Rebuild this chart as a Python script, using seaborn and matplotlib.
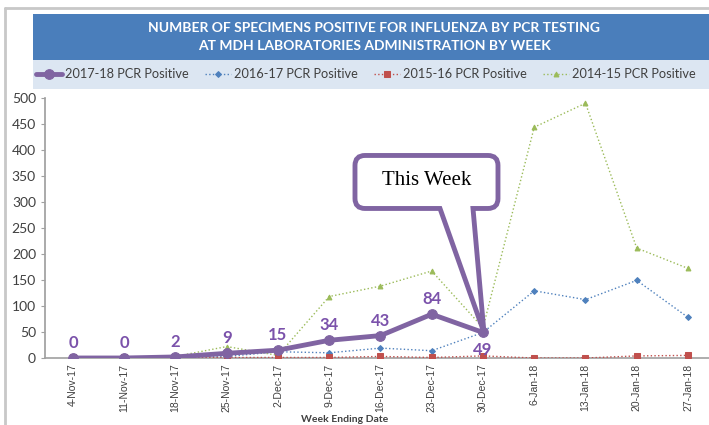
import numpy as np
import pandas as pd
import matplotlib.pyplot as plt
import matplotlib.transforms as mtransforms
import seaborn as sns
from matplotlib.patches import Rectangle, PathPatch
from matplotlib.path import Path
from matplotlib.lines import Line2D

# Dados (semanas 4-Nov a 27-Jan)
semanas = ['4-Nov-17', '11-Nov-17', '18-Nov-17', '25-Nov-17', '2-Dec-17', '9-Dec-17',
           '16-Dec-17', '23-Dec-17', '30-Dec-17', '6-Jan-18', '13-Jan-18', '20-Jan-18', '27-Jan-18']
pcr_2017_18 = [0, 0, 2, 9, 15, 34, 43, 84, 49]
pcr_2016_17 = [0, 0, 1, 3, 12, 10, 19, 14, 49, 129, 112, 149, 78]
pcr_2015_16 = [2, 1, 0, 1, 1, 1, 3, 1, 4, 0, 0, 4, 5]
pcr_2014_15 = [2, 1, 3, 22, 5, 118, 138, 167, 58, 443, 489, 211, 172]
yticks = [0, 50, 100, 150, 200, 250, 300, 350, 400, 450, 500]

roxo = '#8064a2'
azul = '#4f81bd'
vermelho = '#c0504d'
verde = '#9bbb59'
roxo_txt = '#7b52ab'

sns.set_theme(style="white")
plt.rcParams['font.family'] = ['Lato', 'DejaVu Sans']

fig = plt.figure(figsize=(7.09, 4.25), dpi=100)
ax = fig.add_axes([45 / 709, 67 / 425, 664 / 709, 260.5 / 425])

pos = np.arange(len(semanas))
series = [
    ('2014-15 PCR Positive', pcr_2014_15, verde, '^', ':', 1.0, 3.5),
    ('2016-17 PCR Positive', pcr_2016_17, azul, 'D', ':', 1.0, 3.0),
    ('2015-16 PCR Positive', pcr_2015_16, vermelho, 's', ':', 1.0, 4.5),
    ('2017-18 PCR Positive', pcr_2017_18, roxo, 'o', '-', 3.5, 7.0),
]
for nome, vals, cor, mk, ls, lw, ms in series:
    df = pd.DataFrame({'x': pos[:len(vals)], 'y': vals})
    sns.lineplot(data=df, x='x', y='y', ax=ax, color=cor, marker=mk, linestyle=ls,
                 linewidth=lw, markersize=ms, markeredgecolor=cor, label=nome,
                 legend=False, zorder=5 if ls == '-' else 3)

# Rótulos dos valores de 2017-18
for i, v in enumerate(pcr_2017_18):
    dy = -18 if i == len(pcr_2017_18) - 1 else 15
    ax.annotate(str(v), (pos[i], v), xytext=(0, dy), textcoords='offset pixels',
                ha='center', va='center', fontsize=12, fontweight='bold', color=roxo_txt)

# Balão "This Week" ancorado no último ponto (forma em polegadas)
i_ult = len(pcr_2017_18) - 1
x0, x1, y0, y1, r = -1.28, 0.15, 1.24, 1.77, 0.10
pb0, pb1 = -0.43, -0.10
verts = [(x0 + r, y0), (pb0, y0), (0.01, 0.0), (pb1, y0), (x1 - r, y0),
         (x1, y0), (x1, y0 + r), (x1, y1 - r), (x1, y1), (x1 - r, y1),
         (x0 + r, y1), (x0, y1), (x0, y1 - r), (x0, y0 + r), (x0, y0), (x0 + r, y0),
         (x0 + r, y0)]
codes = [Path.MOVETO, Path.LINETO, Path.LINETO, Path.LINETO, Path.LINETO,
         Path.CURVE3, Path.CURVE3, Path.LINETO, Path.CURVE3, Path.CURVE3,
         Path.LINETO, Path.CURVE3, Path.CURVE3, Path.LINETO, Path.CURVE3, Path.CURVE3,
         Path.CLOSEPOLY]
trans = fig.dpi_scale_trans + mtransforms.ScaledTranslation(pos[i_ult], pcr_2017_18[i_ult], ax.transData)
ax.add_patch(PathPatch(Path(verts, codes), transform=trans, fc='white', ec=roxo, lw=3.5,
                       joinstyle='miter', zorder=10, clip_on=False))
ax.annotate('This Week', (pos[i_ult], pcr_2017_18[i_ult]), xytext=(-56, 152),
            textcoords='offset pixels', ha='center', va='center', fontsize=15,
            family='Liberation Serif', color='black', zorder=11)

ax.set_xlim(-0.546, 12.41)
ax.set_ylim(0, 500)
ax.set_yticks(yticks)
ax.set_xticks(pos)
ax.set_xticklabels(semanas, rotation=90, fontsize=7.5, color='#404040', family='Liberation Sans')
ax.tick_params(axis='y', labelsize=10, colors='#404040', length=3, width=0.8, left=True, color='#a0a0a0')
ax.tick_params(axis='x', length=0, pad=4)
ax.set_xlabel('')
ax.set_ylabel('')
for lado in ['top', 'right']:
    ax.spines[lado].set_visible(False)
ax.spines['left'].set_color('#a0a0a0')
ax.spines['bottom'].set_color('#a0a0a0')
ax.spines['bottom'].set_linewidth(1.2)

fig.text(345 / 709, 1 - 420 / 425, 'Week Ending Date', ha='center', va='center',
         fontsize=7.5, fontweight='bold', color='#404040')

# Faixa do título e da legenda
fig.add_artist(Rectangle((33 / 709, 1 - 60 / 425), 1, 46 / 425, transform=fig.transFigure,
                         fc='#4a7ebb', ec='none', zorder=0))
fig.add_artist(Rectangle((33 / 709, 1 - 89 / 425), 1, 29 / 425, transform=fig.transFigure,
                         fc='#dce6f2', ec='none', zorder=0))
fig.text(374 / 709, 1 - 37 / 425,
         'NUMBER OF SPECIMENS POSITIVE FOR INFLUENZA BY PCR TESTING\nAT MDH LABORATORIES ADMINISTRATION BY WEEK',
         ha='center', va='center', fontsize=10, fontweight='bold', color='white', linespacing=1.6)

# Moldura cinza
fig.add_artist(Line2D([5 / 709, 5 / 709], [0, 1 - 8 / 425], transform=fig.transFigure, color='#c8c8c8', lw=2))
fig.add_artist(Line2D([5 / 709, 1], [1 - 8 / 425, 1 - 8 / 425], transform=fig.transFigure, color='#c8c8c8', lw=2))

handles, labels = ax.get_legend_handles_labels()
ordem = ['2017-18 PCR Positive', '2016-17 PCR Positive', '2015-16 PCR Positive', '2014-15 PCR Positive']
hmap = dict(zip(labels, handles))
fig.legend([hmap[o] for o in ordem], ordem, loc='center', bbox_to_anchor=(366 / 709, 1 - 74 / 425),
           ncol=4, frameon=False, fontsize=9.2, handlelength=2.0, columnspacing=1.3,
           handletextpad=0.25, labelcolor='#404040')

plt.savefig('out.png', dpi=100)
